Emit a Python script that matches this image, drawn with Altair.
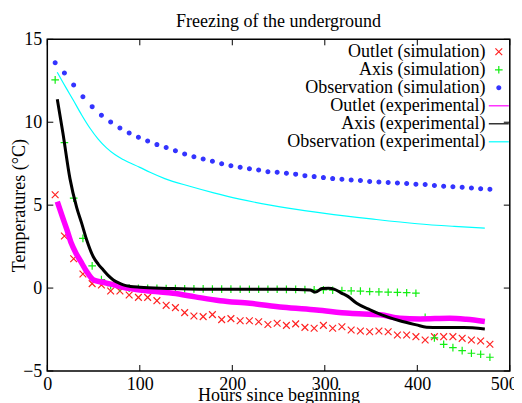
import altair as alt
import pandas as pd

# ---------------- data ----------------
sim_hours = [8.5, 18.5, 28.5, 38.5, 48.5, 58.5, 68.5, 78.5, 88.5, 98.5,
             108.5, 118.5, 128.5, 138.5, 148.5, 158.5, 168.5, 178.5, 188.5, 198.5,
             208.5, 218.5, 228.5, 238.5, 248.5, 258.5, 268.5, 278.5, 288.5, 298.5,
             308.5, 318.5, 328.5, 338.5, 348.5, 358.5, 368.5, 378.5, 388.5, 398.5,
             408.5, 418.5, 428.5, 438.5, 448.5, 458.5, 468.5, 478.5]

outlet_sim = [5.63, 3.14, 1.77, 0.85, 0.27, 0.19, -0.18, -0.18, -0.42, -0.56,
              -0.56, -0.76, -1.04, -1.18, -1.48, -1.68, -1.72, -1.60, -1.90, -1.84,
              -1.97, -1.97, -2.03, -2.20, -2.12, -2.25, -2.16, -2.37, -2.42, -2.25,
              -2.42, -2.33, -2.53, -2.59, -2.63, -2.59, -2.63, -2.83, -2.83, -2.93,
              -3.13, -2.93, -2.93, -2.93, -3.03, -3.13, -3.19, -3.39]

axis_sim = [12.55, 8.77, 5.42, 3.00, 1.34, 0.51, 0.15, 0.02, 0.00, -0.01,
            -0.02, -0.02, -0.03, -0.03, -0.04, -0.05, -0.05, -0.06, -0.06, -0.06,
            -0.07, -0.07, -0.07, -0.07, -0.07, -0.08, -0.08, -0.09, -0.10, -0.11,
            -0.13, -0.15, -0.17, -0.18, -0.21, -0.23, -0.25, -0.26, -0.28, -0.31,
            -1.76, -3.00, -3.39, -3.59, -3.77, -3.93, -3.99, -4.17]

obs_sim = [13.59, 12.97, 12.25, 11.54, 10.94, 10.42, 10.02, 9.65, 9.35, 9.09,
           8.87, 8.65, 8.47, 8.28, 8.09, 7.92, 7.78, 7.65, 7.50, 7.38,
           7.28, 7.20, 7.12, 7.02, 6.98, 6.92, 6.87, 6.78, 6.72, 6.66,
           6.60, 6.56, 6.52, 6.48, 6.42, 6.40, 6.36, 6.34, 6.30, 6.26,
           6.24, 6.18, 6.14, 6.11, 6.08, 6.04, 5.99, 5.96]

outlet_exp_hours = [10.8, 16, 21, 26, 31, 36, 42, 50, 60, 70, 82, 100, 120, 136,
                    160, 187, 219, 255, 291, 327, 360, 381, 403, 435, 453, 473]
outlet_exp = [5.21, 4.35, 3.55, 2.70, 2.10, 1.62, 1.05, 0.49, 0.35, 0.22, 0.05, -0.11, -0.22, -0.31,
              -0.53, -0.76, -0.92, -1.16, -1.32, -1.52, -1.61, -1.82, -1.86, -1.82, -1.88, -2.01]

axis_exp_hours = [10.8, 17, 24.5, 31.8, 37.2, 42.6, 49.7, 55, 60.5, 66, 71.4, 77, 82.2, 90,
                  100, 130, 165, 230, 270, 284, 290, 297, 304, 310, 318, 325, 334.5,
                  349, 361.5, 381, 399, 410, 424, 450, 473]
axis_exp = [11.38, 9.30, 6.60, 4.85, 3.90, 2.90, 1.89, 1.45, 1.09, 0.75, 0.49, 0.32, 0.19, 0.10,
            0.05, -0.02, -0.07, -0.07, -0.08, -0.12, -0.24, -0.03, -0.01, -0.06, -0.30, -0.50, -0.92,
            -1.32, -1.62, -1.97, -2.22, -2.36, -2.38, -2.38, -2.47]

obs_exp_hours = [10.8, 20, 28, 37, 46, 55, 64, 73, 82, 100, 111, 127, 154, 180, 208,
                 241, 262, 300, 350, 400, 440, 473]
obs_exp = [13.01, 12.10, 11.34, 10.45, 9.65, 8.98, 8.45, 8.05, 7.75, 7.28, 6.98, 6.60, 6.14, 5.74, 5.36,
           5.00, 4.80, 4.50, 4.17, 3.88, 3.72, 3.61]

x_ticks = [0, 100, 200, 300, 400, 500]
y_ticks = [-5, 0, 5, 10, 15]

series_names = ["Outlet (simulation)", "Axis (simulation)", "Observation (simulation)",
                "Outlet (experimental)", "Axis (experimental)", "Observation (experimental)"]
series_colors = ["#ff2222", "#11ee11", "#3333ff", "#ff00ff", "#000000", "#00ffff"]
line_widths = [5.5, 3, 1.2]

# ---------------- style ----------------
FONT = "Liberation Serif"
W, H = 462.5, 331.7
SYM = 207
X_PATH = "M-0.47,-0.47L0.47,0.47M-0.47,0.47L0.47,-0.47"
PLUS_PATH = "M-0.53,0L0.53,0M0,-0.53L0,0.53"
DOT_PATH = "M0.264,0A0.264,0.264,0,1,1,-0.264,0A0.264,0.264,0,1,1,0.264,0Z"
LINE_PATH = "M-1.39,0L1.39,0"
shape_range = [X_PATH, PLUS_PATH, DOT_PATH, LINE_PATH, LINE_PATH, LINE_PATH]

# ---------------- tables ----------------
sim_rows = []
for name, vals in zip(series_names[:3], [outlet_sim, axis_sim, obs_sim]):
    for h, v in zip(sim_hours, vals):
        sim_rows.append({"hours": h, "temp": v, "series": name})
sim_df = pd.DataFrame(sim_rows)

exp_tables = []
for name, hrs, vals in zip(series_names[3:],
                           [outlet_exp_hours, axis_exp_hours, obs_exp_hours],
                           [outlet_exp, axis_exp, obs_exp]):
    exp_tables.append(pd.DataFrame({"hours": hrs, "temp": vals, "series": name}))

xt_df = pd.DataFrame({"t": x_ticks})
yt_df = pd.DataFrame({"t": y_ticks})

x_scale = alt.Scale(domain=[0, 500], nice=False, zero=False)
y_scale = alt.Scale(domain=[-5, 15], nice=False, zero=False)
color_scale = alt.Scale(domain=series_names, range=series_colors)
shape_scale = alt.Scale(domain=series_names, range=shape_range)

legend = alt.Legend(
    title=None, orient="none", legendX=442.5, legendY=3.5,
    labelAlign="right", labelOffset={"expr": "-22.2"}, labelLimit=400,
    labelFont=FONT, labelFontSize=18, labelColor="black",
    symbolSize=SYM, symbolStrokeWidth=1.2, rowPadding=0, padding=0,
)

x_axis = alt.Axis(values=x_ticks, title="Hours since beginning", labelPadding=4,
                  ticks=False, domain=False, grid=False, labelFlush=False,
                  labelOffset={"condition": {"test": "datum.value === 500", "value": -6}, "value": 0},
                  titleY=29.5, titleBaseline="alphabetic")
y_axis = alt.Axis(values=y_ticks, title="Temperatures (°C)", labelPadding=5.5,
                  ticks=False, domain=False, grid=False, labelFlush=False,
                  titleX=-23.2, titleY=H / 2, titleBaseline="alphabetic", titleAngle=270)

X = lambda f: alt.X(f, scale=x_scale, axis=x_axis)
Y = lambda f: alt.Y(f, scale=y_scale, axis=y_axis)

points = alt.Chart(sim_df).mark_point(filled=True, size=SYM, strokeWidth=1.2, opacity=1).encode(
    x=X("hours:Q"),
    y=Y("temp:Q"),
    color=alt.Color("series:N", scale=color_scale, legend=legend),
    stroke=alt.Stroke("series:N", scale=color_scale, legend=legend),
    shape=alt.Shape("series:N", scale=shape_scale, legend=legend),
)

line_layers = []
for tbl, lw in zip(exp_tables, line_widths):
    line_layers.append(
        alt.Chart(tbl).mark_line(interpolate="monotone", strokeWidth=lw).encode(
            x=X("hours:Q"),
            y=Y("temp:Q"),
            color=alt.Color("series:N", scale=color_scale, legend=legend),
            order=alt.Order("hours:Q"),
        )
    )

tick_x_bottom = alt.Chart(xt_df).mark_rule(color="black", strokeWidth=1).encode(
    x=X("t:Q"), y=alt.value(H), y2=alt.value(H - 6))
tick_x_top = alt.Chart(xt_df).mark_rule(color="black", strokeWidth=1).encode(
    x=X("t:Q"), y=alt.value(0), y2=alt.value(6))
tick_y_left = alt.Chart(yt_df).mark_rule(color="black", strokeWidth=1).encode(
    y=Y("t:Q"), x=alt.value(0), x2=alt.value(6))
tick_y_right = alt.Chart(yt_df).mark_rule(color="black", strokeWidth=1).encode(
    y=Y("t:Q"), x=alt.value(W), x2=alt.value(W - 6))

chart = alt.layer(points, *line_layers, tick_x_bottom, tick_x_top, tick_y_left, tick_y_right).properties(
    width=W, height=H,
    title=alt.TitleParams("Freezing of the underground", font=FONT, fontSize=18,
                          fontWeight="normal", color="black", anchor="middle",
                          baseline="alphabetic", offset=13.3, dy=28),
    autosize=alt.AutoSizeParams(type="none"),
    padding={"left": 39.3, "top": 31.3, "right": 4.2, "bottom": 32},
).configure_view(
    stroke="black", strokeWidth=1.5
).configure_axis(
    labelFont=FONT, labelFontSize=18, labelColor="black",
    titleFont=FONT, titleFontSize=18, titleFontWeight="normal", titleColor="black",
)

chart.save("out.html", embed_options={"renderer": "svg", "actions": False})
